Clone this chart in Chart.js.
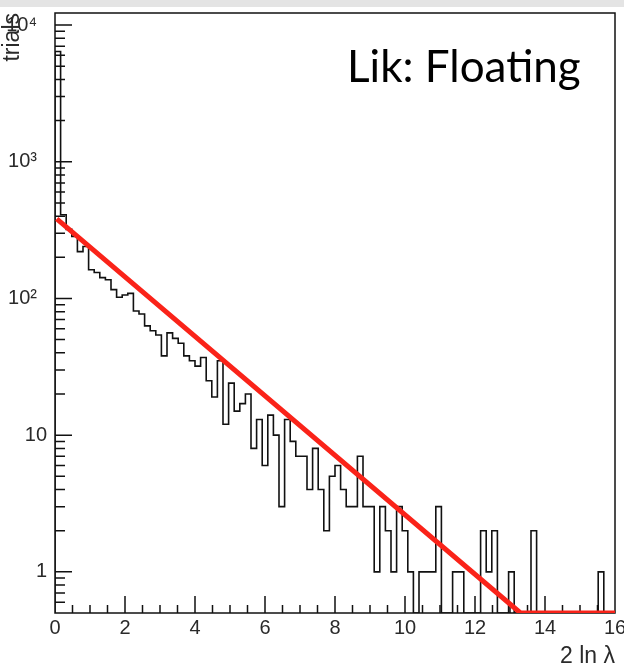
<!DOCTYPE html>
<html>
<head>
<meta charset="utf-8">
<script src="https://cdn.jsdelivr.net/npm/chart.js@4.4.1/dist/chart.umd.min.js"></script>
<style>
  html, body { margin: 0; padding: 0; background: #fff; }
  #wrap { position: relative; width: 624px; height: 672px; overflow: hidden; }
  #band { position: absolute; left: 0; top: 0; width: 624px; height: 7px; background: #e4e4e4; }
  canvas { position: absolute; left: 0; top: 0; }
</style>
</head>
<body>
<div id="wrap">
  <canvas id="c" width="624" height="672"></canvas>
  <div id="band"></div>
</div>
<script>
// Distribution of 2 ln(lambda) over toy trials: 100 equal bins on [0, 16]
const X_MIN = 0;
const X_MAX = 16;
const trialCounts = [
  6400, 410, 320, 284, 220, 240, 162, 155, 142, 137,
  116, 102, 106, 109, 81, 77, 63, 58, 54, 38,
  56, 51, 47, 38, 35, 32, 37, 25, 19, 35,
  12, 24, 15, 17, 20, 8, 13, 6, 14, 10,
  3, 13, 9, 7, 7, 4, 8, 4, 2, 5,
  6, 4, 3, 3, 7, 3, 3, 1, 3, 2,
  1, 3, 2, 1, 0, 1, 1, 1, 3, 0,
  0, 1, 1, 0, 0, 0, 2, 1, 2, 0,
  0, 1, 0, 0, 0, 2, 0, 0, 0, 0,
  0, 0, 0, 0, 0, 0, 0, 1, 0, 0
];

// Exponential fit (a straight line on the log axis); below the frame floor it lies on the floor
const fitX = [0.05, 13.3, 16];
const fitY = [382, 0.5, 0.5];

// Axis ranges and labelled ticks
const Y_MIN = 0.5;
const Y_MAX = 12250;
const xTickValues = [0, 2, 4, 6, 8, 10, 12, 14, 16];
const xTickLabels = ['0', '2', '4', '6', '8', '10', '12', '14', '16'];
const yTickValues = [1, 10, 100, 1000, 10000];
const yTickLabels = ['1', '10', '10\u00B2', '10\u00B3', '10\u2074'];

const binWidth = (X_MAX - X_MIN) / trialCounts.length;
const floorOf = v => (v > 0 ? v : Y_MIN);

// Outline of the histogram: rise from the floor, one step per bin, drop back to the floor
const histPoints = [{ x: X_MIN, y: Y_MIN }];
trialCounts.forEach((c, i) => histPoints.push({ x: X_MIN + i * binWidth, y: floorOf(c) }));
histPoints.push({ x: X_MAX, y: floorOf(trialCounts[trialCounts.length - 1]) });
histPoints.push({ x: X_MAX, y: Y_MIN });

const fitPoints = fitX.map((x, i) => ({ x, y: fitY[i] }));

const INK = '#111';
const LABEL = '#2a2a2a';

// Labels carrying an exponent sit further from the axis, like the ROOT power labels
const yLabelFor = v => {
  const s = yTickLabels[yTickValues.indexOf(v)];
  return v >= 100 ? s + '\u2002' : s;
};

// Frame and inward tick marks, drawn under the data
const framePlugin = {
  id: 'frame',
  beforeDatasetsDraw(chart) {
    const { ctx, chartArea: a, scales: { x, y } } = chart;
    ctx.save();
    ctx.strokeStyle = INK;
    ctx.lineWidth = 1.5;
    ctx.beginPath();
    for (let v = X_MIN; v <= X_MAX + 1e-9; v += 0.5) {
      if (v === X_MIN || v === X_MAX) continue;
      const px = x.getPixelForValue(v);
      const len = xTickValues.includes(v) ? 17 : 8;
      ctx.moveTo(px, a.bottom);
      ctx.lineTo(px, a.bottom - len);
    }
    for (let d = -1; d <= 4; d++) {
      for (let m = 1; m <= 9; m++) {
        const v = m * Math.pow(10, d);
        if (v <= Y_MIN || v >= Y_MAX) continue;
        const py = y.getPixelForValue(v);
        const len = m === 1 ? 17 : 10;
        ctx.moveTo(a.left, py);
        ctx.lineTo(a.left + len, py);
      }
    }
    ctx.stroke();
    ctx.strokeRect(a.left, a.top, a.right - a.left, a.bottom - a.top);
    ctx.restore();
  },
  afterDraw(chart) {
    const { ctx } = chart;
    ctx.save();
    ctx.fillStyle = '#000';
    ctx.font = '44px Lato';
    ctx.textBaseline = 'alphabetic';
    ctx.textAlign = 'left';
    ctx.fillText('Lik: Floating', 347, 82);
    ctx.restore();
  }
};

const tickFont = { family: 'Liberation Sans', size: 20 };
const titleFont = { family: 'Liberation Sans', size: 23, lineHeight: 1.0 };

new Chart(document.getElementById('c'), {
  type: 'line',
  data: {
    datasets: [
      {
        data: fitPoints,
        borderColor: 'rgb(250, 35, 25)',
        borderWidth: 5,
        pointRadius: 0,
        fill: false,
        tension: 0
      },
      {
        data: histPoints,
        borderColor: INK,
        borderWidth: 1.6,
        pointRadius: 0,
        fill: false,
        stepped: true
      }
    ]
  },
  options: {
    responsive: false,
    animation: false,
    events: [],
    layout: { padding: { top: 13, right: 9, left: 0, bottom: 0 } },
    plugins: { legend: { display: false }, tooltip: { enabled: false }, title: { display: false } },
    scales: {
      x: {
        type: 'linear',
        min: X_MIN,
        max: X_MAX,
        grid: { display: false, drawTicks: false },
        border: { display: false },
        afterBuildTicks: s => { s.ticks = xTickValues.map(v => ({ value: v })); },
        ticks: {
          autoSkip: false,
          maxRotation: 0,
          padding: 3,
          color: LABEL,
          font: tickFont,
          callback: v => xTickLabels[xTickValues.indexOf(v)]
        },
        title: {
          display: true,
          text: '2 ln \u03BB',
          align: 'end',
          color: LABEL,
          font: titleFont,
          padding: { top: 0, bottom: 4 }
        },
        afterFit: s => { s.height = 59; s.paddingLeft = 0; s.paddingRight = 0; }
      },
      y: {
        type: 'logarithmic',
        min: Y_MIN,
        max: Y_MAX,
        grid: { display: false, drawTicks: false },
        border: { display: false },
        afterBuildTicks: s => { s.ticks = yTickValues.map(v => ({ value: v })); },
        ticks: {
          autoSkip: false,
          padding: 8,
          color: LABEL,
          font: tickFont,
          callback: v => yLabelFor(v)
        },
        title: {
          display: true,
          text: 'trials',
          align: 'end',
          color: LABEL,
          font: titleFont,
          padding: { top: 1, bottom: 0 }
        },
        afterFit: s => { s.width = 55; s.paddingTop = 0; s.paddingBottom = 0; }
      }
    }
  },
  plugins: [framePlugin]
});
</script>
</body>
</html>
